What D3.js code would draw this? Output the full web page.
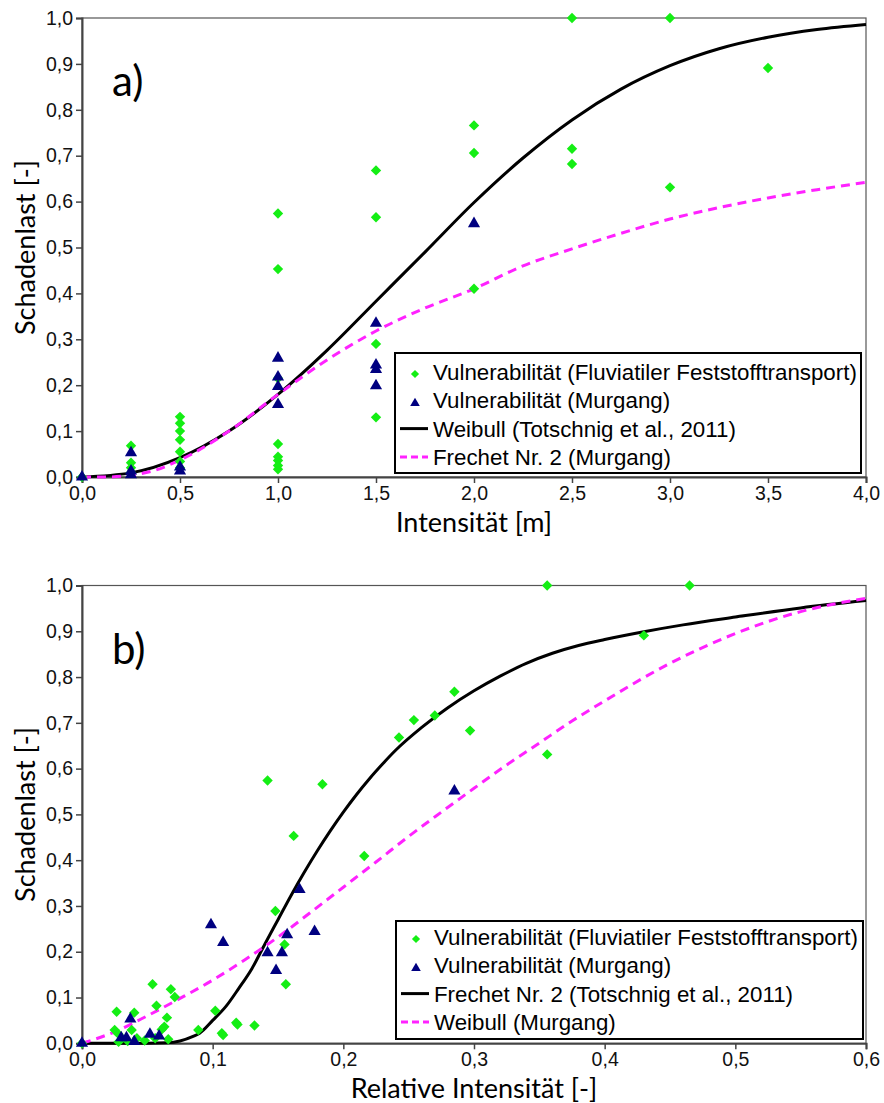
<!DOCTYPE html>
<html>
<head>
<meta charset="utf-8">
<script src="https://cdn.jsdelivr.net/npm/d3@7"></script>
<style>
body { margin: 0; background: #fff; }
svg { display: block; }
</style>
</head>
<body>
<svg id="chart" width="884" height="1103"></svg>
<script>
// ---- panel a) : Intensität [m]
const aFluv = [
  [0,0],
  [0.25,0.068],[0.25,0.031],[0.25,0.02],[0.25,0.01],
  [0.5,0.131],[0.5,0.117],[0.5,0.1],[0.5,0.081],[0.5,0.055],[0.5,0.034],[0.5,0.02],
  [1,0.574],[1,0.453],[1,0.215],[1,0.072],[1,0.044],[1,0.036],[1,0.025],[1,0.017],
  [1.5,0.668],[1.5,0.566],[1.5,0.29],[1.5,0.13],
  [2,0.766],[2,0.706],[2,0.41],
  [2.5,1],[2.5,0.715],[2.5,0.682],
  [3,1],[3,0.631],
  [3.5,0.891]
];
const aMurg = [
  [0,0],[0.25,0.053],[0.25,0.013],[0.25,0.005],[0.5,0.022],[0.5,0.013],
  [1,0.259],[1,0.218],[1,0.197],[1,0.158],
  [1.5,0.335],[1.5,0.244],[1.5,0.234],[1.5,0.199],[2,0.552]
];
const aWeibX = [0,0.25,0.5,0.75,1,1.25,1.5,1.75,2,2.25,2.5,2.75,3,3.25,3.5,3.75,4];
const aWeibY = [0,0.009,0.042,0.1,0.18,0.276,0.383,0.49,0.598,0.695,0.778,0.845,0.896,0.933,0.958,0.975,0.986];
const aFrechX = [0,0.125,0.25,0.375,0.5,0.75,1,1.25,1.5,1.75,2,2.25,2.5,2.75,3,3.25,3.5,3.75,4];
const aFrechY = [0,0,0.004,0.015,0.037,0.1,0.18,0.255,0.318,0.368,0.41,0.46,0.497,0.531,0.562,0.587,0.608,0.626,0.642];
const aXTicks = [0,0.5,1,1.5,2,2.5,3,3.5,4];
const aLegend = ["Vulnerabilität (Fluviatiler Feststofftransport)", "Vulnerabilität (Murgang)",
                 "Weibull (Totschnig et al., 2011)", "Frechet Nr. 2 (Murgang)"];

// ---- panel b) : Relative Intensität [-]
const bFluv = [
  [0,0],
  [0.0265,0.069],[0.025,0.029],[0.028,0.02],[0.028,0.003],[0.040,0.067],[0.038,0.029],[0.042,0.011],[0.035,0.005],
  [0.054,0.129],[0.057,0.082],[0.068,0.118],[0.071,0.101],[0.065,0.056],[0.063,0.036],[0.061,0.03],
  [0.056,0.011],[0.066,0.009],[0.048,0.006],
  [0.089,0.029],[0.102,0.071],[0.107,0.022],[0.108,0.018],[0.118,0.045],[0.119,0.041],[0.132,0.039],
  [0.148,0.289],[0.155,0.216],[0.156,0.129],[0.162,0.453],[0.142,0.574],[0.184,0.566],[0.216,0.409],
  [0.2426,0.668],[0.254,0.706],[0.27,0.716],[0.285,0.768],[0.297,0.683],[0.356,0.631],
  [0.356,1],[0.465,1],[0.43,0.891]
];
const bMurg = [
  [0,0],[0.037,0.053],[0.030,0.012],[0.034,0.012],[0.040,0.004],[0.052,0.02],[0.059,0.016],
  [0.0987,0.259],[0.108,0.22],[0.142,0.198],[0.153,0.198],[0.1485,0.159],[0.157,0.237],
  [0.1665,0.336],[0.178,0.244],[0.285,0.551]
];
const bFrechX = [0,0.05,0.065,0.075,0.085,0.09,0.1,0.11,0.12,0.13,0.14,0.15,0.16,0.17,0.18,0.19,0.2,0.21,0.22,0.23,0.24,0.26,0.28,0.3,0.32,0.34,0.36,0.38,0.4,0.43,0.46,0.5,0.55,0.6];
const bFrechY = [0,0,0.001,0.005,0.015,0.022,0.05,0.08,0.12,0.163,0.217,0.27,0.323,0.373,0.42,0.464,0.505,0.543,0.578,0.61,0.64,0.69,0.733,0.77,0.802,0.83,0.852,0.869,0.882,0.899,0.914,0.931,0.951,0.967];
const bWeibX = [0,0.025,0.05,0.075,0.1,0.125,0.15,0.175,0.2,0.225,0.25,0.275,0.3,0.325,0.35,0.375,0.4,0.45,0.5,0.55,0.6];
const bWeibY = [0,0.025,0.06,0.098,0.138,0.183,0.232,0.286,0.341,0.396,0.452,0.505,0.557,0.608,0.656,0.704,0.748,0.83,0.895,0.943,0.972];
const bXTicks = [0,0.1,0.2,0.3,0.4,0.5,0.6];
const bLegend = ["Vulnerabilität (Fluviatiler Feststofftransport)", "Vulnerabilität (Murgang)",
                 "Frechet Nr. 2 (Totschnig et al., 2011)", "Weibull (Murgang)"];

const yTicks = [0,0.1,0.2,0.3,0.4,0.5,0.6,0.7,0.8,0.9,1];

const GREEN = "#14ee14", NAVY = "#000080", MAGENTA = "#ff22ff";
const fmt = d3.formatLocale({decimal: ",", thousands: ".", grouping: [3], currency: ["", ""]}).format(".1f");

const svg = d3.select("#chart");

function panel(o) {
  const x = d3.scaleLinear().domain(o.xDomain).range([o.left, o.right]);
  const y = d3.scaleLinear().domain([0, 1]).range([o.bottom, o.top]);
  const g = svg.append("g");

  // frame
  g.append("rect").attr("x", o.left).attr("y", o.top)
    .attr("width", o.right - o.left).attr("height", o.bottom - o.top)
    .attr("fill", "none").attr("stroke", "#555").attr("stroke-width", 1.2);

  const xAxis = g.append("g").attr("transform", `translate(0,${o.bottom})`)
    .call(d3.axisBottom(x).tickValues(o.xTicks).tickFormat(fmt).tickSize(6).tickPadding(3));
  const yAxis = g.append("g").attr("transform", `translate(${o.left},0)`)
    .call(d3.axisLeft(y).tickValues(yTicks).tickFormat(fmt).tickSize(6).tickPadding(3));
  [xAxis, yAxis].forEach(a => {
    a.select(".domain").attr("stroke", "#444").attr("stroke-width", 2);
    a.selectAll(".tick line").attr("stroke", "#444").attr("stroke-width", 1.5);
    a.selectAll(".tick text").attr("fill", "#111")
      .style("font-family", "'Liberation Sans', Arial, sans-serif").style("font-size", "19.5px");
  });

  // titles
  g.append("text").attr("x", (o.left + o.right) / 2).attr("y", o.bottom + 55)
    .attr("text-anchor", "middle").style("font-family", "Lato, sans-serif").style("font-size", "27px")
    .text(o.xTitle);
  g.append("text").attr("transform", `translate(35,${(o.top + o.bottom) / 2}) rotate(-90)`)
    .attr("text-anchor", "middle").style("font-family", "Lato, sans-serif").style("font-size", "27px")
    .text("Schadenlast [-]");
  g.append("text").attr("x", 112).attr("y", o.top + 78)
    .style("font-family", "Lato, sans-serif").style("font-size", "42px").text(o.tag);

  // curves
  const line = d3.line().x(d => x(d[0])).y(d => y(d[1])).curve(d3.curveMonotoneX);
  g.append("path").datum(d3.zip(o.solidX, o.solidY)).attr("d", line)
    .attr("fill", "none").attr("stroke", "#000").attr("stroke-width", 3);
  g.append("path").datum(d3.zip(o.dashX, o.dashY)).attr("d", line)
    .attr("fill", "none").attr("stroke", MAGENTA).attr("stroke-width", 3).attr("stroke-dasharray", "9,6");

  // points
  const diamond = d3.symbol(d3.symbolSquare, 54);
  const tri = d3.symbol(d3.symbolTriangle, 64);
  g.append("g").selectAll("path").data(o.fluv).join("path")
    .attr("d", diamond).attr("fill", GREEN)
    .attr("transform", d => `translate(${x(d[0])},${y(d[1])}) rotate(45)`);
  g.append("g").selectAll("path").data(o.murg).join("path")
    .attr("d", tri).attr("fill", NAVY)
    .attr("transform", d => `translate(${x(d[0])},${y(d[1])})`);

  // legend
  const L = o.legend;
  const lg = g.append("g");
  lg.append("rect").attr("x", L.x).attr("y", L.y).attr("width", L.w).attr("height", L.h)
    .attr("fill", "#fff").attr("stroke", "#000").attr("stroke-width", 2);
  const rows = lg.selectAll("g").data(o.legendLabels).join("g")
    .attr("transform", (d, i) => `translate(${L.x},${L.y + L.first + i * 28.3})`);
  rows.append("text").attr("x", 38).attr("y", 8).text(d => d)
    .style("font-family", "'Liberation Sans', Arial, sans-serif").style("font-size", "22.3px");
  rows.filter((d, i) => i === 0).append("path").attr("d", d3.symbol(d3.symbolSquare, 34))
    .attr("fill", GREEN).attr("transform", "translate(20,2) rotate(45)");
  rows.filter((d, i) => i === 1).append("path").attr("d", d3.symbol(d3.symbolTriangle, 40))
    .attr("fill", NAVY).attr("transform", "translate(20,3)");
  rows.filter((d, i) => i === 2).append("line").attr("x1", 5).attr("x2", 33).attr("y1", 0).attr("y2", 0)
    .attr("stroke", "#000").attr("stroke-width", 3);
  rows.filter((d, i) => i === 3).append("line").attr("x1", 5).attr("x2", 33).attr("y1", 0).attr("y2", 0)
    .attr("stroke", MAGENTA).attr("stroke-width", 3).attr("stroke-dasharray", "7,4");
}

panel({
  left: 82, right: 866, top: 18, bottom: 477, xDomain: [0, 4], xTicks: aXTicks,
  xTitle: "Intensität [m]", tag: "a)",
  fluv: aFluv, murg: aMurg,
  solidX: aWeibX, solidY: aWeibY, dashX: aFrechX, dashY: aFrechY,
  legendLabels: aLegend, legend: {x: 395, y: 353, w: 466, h: 120, first: 19}
});

panel({
  left: 82, right: 866, top: 585.5, bottom: 1043.3, xDomain: [0, 0.6], xTicks: bXTicks,
  xTitle: "Relative Intensität [-]", tag: "b)",
  fluv: bFluv, murg: bMurg,
  solidX: bFrechX, solidY: bFrechY, dashX: bWeibX, dashY: bWeibY,
  legendLabels: bLegend, legend: {x: 396, y: 921, w: 467, h: 118, first: 16}
});
</script>
</body>
</html>
